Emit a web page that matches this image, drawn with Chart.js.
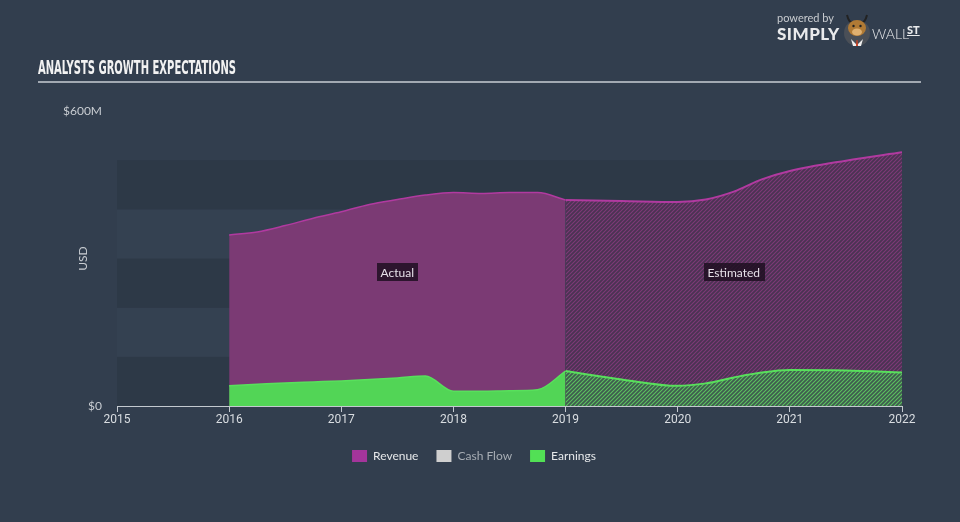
<!DOCTYPE html>
<html>
<head>
<meta charset="utf-8">
<script src="https://cdn.jsdelivr.net/npm/chart.js@4/dist/chart.umd.min.js"></script>
<style>
  html, body { margin: 0; padding: 0; background: #323e4e; }
  #wrap { position: relative; width: 960px; height: 522px; overflow: hidden; background: #323e4e; }
  #chart { position: absolute; left: 0; top: 0; }
  #title { position: absolute; left: 38px; top: 56px; color: #f2f2f2; font-family: "Liberation Sans Narrow", "DejaVu Sans Condensed", sans-serif; font-weight: bold; font-size: 19px; white-space: nowrap; transform-origin: 0 0; letter-spacing: 0; }
  #rule { position: absolute; left: 38px; top: 81px; width: 883px; height: 1.5px; background: #a2a9b2; }
  #logo { position: absolute; left: 777px; top: 9px; width: 170px; height: 44px; font-family: Lato, "Open Sans", sans-serif; }
  #logo .pb { position: absolute; left: 0; top: 2px; font-size: 11px; color: #c9ccd0; }
  #logo .simply { position: absolute; left: 0; top: 14px; font-size: 17px; font-weight: 900; color: #e9eaec; letter-spacing: 0.5px; }
  #logo .wall { position: absolute; left: 95px; top: 16px; font-size: 14px; font-weight: 300; color: #e9eaec; letter-spacing: 0; }
  #logo .st { position: absolute; left: 130px; top: 14px; font-size: 11px; font-weight: 900; color: #e9eaec; text-decoration: underline; }
  #logo svg { position: absolute; left: 64px; top: 0px; }
</style>
</head>
<body>
<div id="wrap">
  <canvas id="chart" width="960" height="522"></canvas>
  <div id="title">ANALYSTS GROWTH EXPECTATIONS</div>
  <div id="rule"></div>
  <div id="logo">
    <span class="pb">powered by</span>
    <span class="simply">SIMPLY</span>
    <svg width="32" height="40" viewBox="0 0 32 40">
      <circle cx="16" cy="24" r="13" fill="#4a4f57"/>
      <path d="M6 6 Q8 14 12 14 M26 6 Q24 14 20 14" stroke="#222" stroke-width="2" fill="none"/>
      <ellipse cx="16" cy="19" rx="9" ry="8" fill="#b07a35"/>
      <ellipse cx="16" cy="23" rx="5" ry="3.5" fill="#e0b070"/>
      <circle cx="12.5" cy="17" r="1.2" fill="#222"/>
      <circle cx="19.5" cy="17" r="1.2" fill="#222"/>
      <path d="M10 30 L16 36 L22 30 L20 37 L12 37 Z" fill="#eee"/>
      <path d="M15.5 31 L16.5 31 L17 37 L15 37 Z" fill="#d04020"/>
    </svg>
    <span class="wall">WALL</span>
    <span class="st">ST</span>
  </div>
</div>
<script>
// ---- data (values in $M, x in years) ----
const yearTicks = [2015, 2016, 2017, 2018, 2019, 2020, 2021, 2022];
const yTickValues = [0, 600];

const actualYears      = [2016, 2016.25, 2016.5, 2016.75, 2017, 2017.25, 2017.5, 2017.75, 2018, 2018.25, 2018.5, 2018.75, 2019];
const revenueActual    = [348, 354, 367, 382, 395, 410, 420, 429, 434, 432, 434, 434, 419];
const earningsActual   = [41, 44, 47, 49, 51, 54, 57, 61, 30, 30, 31, 33, 71];

const estimatedYears     = [2019, 2019.5, 2020, 2020.25, 2020.5, 2020.75, 2021, 2021.5, 2022];
const revenueEstimated   = [419, 417, 415, 420, 436, 461, 478, 499, 516];
const earningsEstimated  = [71, 54, 41, 46, 58, 68, 73, 72, 68];

const segmentLabels = ['Actual', 'Estimated'];
const segmentBounds = [[2016, 2019], [2019, 2022]];
const segmentLabelValue = 272;

const legendNames = ['Revenue', 'Cash Flow', 'Earnings'];

// ---- helpers ----
function pts(xs, ys) { return xs.map((x, i) => ({ x: x, y: ys[i] })); }

function hatch(bg, fg) {
  const s = 4;
  const c = document.createElement('canvas');
  c.width = s; c.height = s;
  const g = c.getContext('2d');
  g.fillStyle = bg; g.fillRect(0, 0, s, s);
  g.strokeStyle = fg; g.lineWidth = 1.1;
  g.beginPath();
  g.moveTo(0, s); g.lineTo(s, 0);
  g.moveTo(-1, 1); g.lineTo(1, -1);
  g.moveTo(s - 1, s + 1); g.lineTo(s + 1, s - 1);
  g.stroke();
  return g.createPattern(c, 'repeat');
}

// fit title width
(function () {
  const t = document.getElementById('title');
  const w = t.getBoundingClientRect().width;
  t.style.transform = 'scaleX(' + (198 / w) + ')';
})();

const FONT = 'Lato, "Open Sans", sans-serif';
const revLine = '#b13aa0';
const revFill = '#7b3a74';
const earnLine = '#58e05c';
const earnFill = '#52d556';

const bandsPlugin = {
  id: 'bands',
  beforeDatasetsDraw(chart) {
    const { ctx, chartArea, scales } = chart;
    const y = scales.y;
    ctx.save();
    for (let v = 0; v < 500; v += 100) {
      const top = y.getPixelForValue(v + 100);
      const bot = y.getPixelForValue(v);
      ctx.fillStyle = ((v / 100) % 2 === 0) ? '#2d3947' : '#344151';
      ctx.fillRect(chartArea.left, top, chartArea.right - chartArea.left, bot - top);
    }
    ctx.restore();
  }
};

// centre the legend on the whole canvas rather than on the padded area
const legendShiftPlugin = {
  id: 'legendShift',
  afterUpdate(chart) {
    const lg = chart.legend;
    if (!lg) return;
    const mid = (lg.left + lg.right) / 2;
    const dx = chart.width / 2 - 6 - mid;
    lg.left += dx; lg.right += dx;
    if (lg.legendHitBoxes) lg.legendHitBoxes.forEach(b => { b.left += dx; });
  }
};

const segLabelPlugin = {
  id: 'segLabels',
  afterDatasetsDraw(chart) {
    const { ctx, scales } = chart;
    ctx.save();
    ctx.font = '12px ' + FONT;
    ctx.textAlign = 'center';
    ctx.textBaseline = 'middle';
    segmentLabels.forEach((txt, i) => {
      const xc = (scales.x.getPixelForValue(segmentBounds[i][0]) + scales.x.getPixelForValue(segmentBounds[i][1])) / 2;
      const yc = scales.y.getPixelForValue(segmentLabelValue);
      const w = ctx.measureText(txt).width + 8;
      const h = 18;
      ctx.fillStyle = 'rgba(28,14,30,0.82)';
      ctx.fillRect(Math.round(xc - w / 2), Math.round(yc - h / 2), Math.round(w), h);
      ctx.fillStyle = '#e6e0e8';
      ctx.fillText(txt, xc, yc + 0.5);
    });
    ctx.restore();
  }
};

const ctx = document.getElementById('chart').getContext('2d');
new Chart(ctx, {
  type: 'line',
  data: {
    datasets: [
      { label: 'Earnings', data: pts(actualYears, earningsActual), borderColor: earnLine, backgroundColor: earnFill, fill: 'origin', borderWidth: 1.5 },
      { label: 'Earnings est', data: pts(estimatedYears, earningsEstimated), borderColor: earnLine, backgroundColor: hatch('#3f5b4f', '#5cc25f'), fill: 'origin', borderWidth: 2 },
      { label: 'Revenue', data: pts(actualYears, revenueActual), borderColor: revLine, backgroundColor: revFill, fill: 'origin', borderWidth: 1.5 },
      { label: 'Revenue est', data: pts(estimatedYears, revenueEstimated), borderColor: revLine, backgroundColor: hatch('#4a3352', '#7e3a78'), fill: 'origin', borderWidth: 2 }
    ]
  },
  options: {
    responsive: false,
    animation: false,
    events: [],
    elements: { point: { radius: 0 }, line: { cubicInterpolationMode: 'monotone' } },
    layout: { padding: { top: 111, right: 58, bottom: 50, left: 0 } },
    plugins: {
      tooltip: { enabled: false },
      legend: {
        position: 'bottom',
        onClick: null,
        labels: {
          boxWidth: 15,
          boxHeight: 12,
          padding: 18,
          font: { family: FONT, size: 12 },
          color: '#e6e8ea',
          generateLabels() {
            const cols = ['#a4359b', '#cfcfcf', '#52e055'];
            const txtCols = ['#e6e8ea', '#a7adb4', '#e6e8ea'];
            return legendNames.map((n, i) => ({
              text: n, fillStyle: cols[i], strokeStyle: cols[i], lineWidth: 0,
              fontColor: txtCols[i], hidden: false, datasetIndex: i
            }));
          }
        }
      }
    },
    scales: {
      x: {
        type: 'linear',
        min: yearTicks[0],
        max: yearTicks[yearTicks.length - 1],
        afterBuildTicks(s) { s.ticks = yearTicks.map(v => ({ value: v })); },
        afterFit(s) { s.height = 26; },
        grid: { display: true, drawOnChartArea: false, drawTicks: true, tickLength: 6, color: '#c3c9cf', lineWidth: 1 },
        border: { display: true, color: '#c3c9cf', width: 1 },
        ticks: { color: '#d9dde1', font: { family: 'Roboto, sans-serif', size: 12 }, padding: 1, maxRotation: 0, callback: v => String(v) }
      },
      y: {
        type: 'linear',
        min: 0,
        max: 600,
        afterBuildTicks(s) { s.ticks = yTickValues.map(v => ({ value: v })); },
        afterFit(s) { s.width = 117; },
        grid: { display: false, drawTicks: false },
        border: { display: false },
        ticks: { color: '#c9cdd2', font: { family: FONT, size: 12 }, padding: 15, callback: v => '$' + v + (v ? 'M' : '') },
        title: { display: true, text: 'USD', color: '#c9cdd2', font: { family: FONT, size: 12 }, padding: { top: 76, bottom: 0 } }
      }
    }
  },
  plugins: [bandsPlugin, legendShiftPlugin, segLabelPlugin]
});
</script>
</body>
</html>
